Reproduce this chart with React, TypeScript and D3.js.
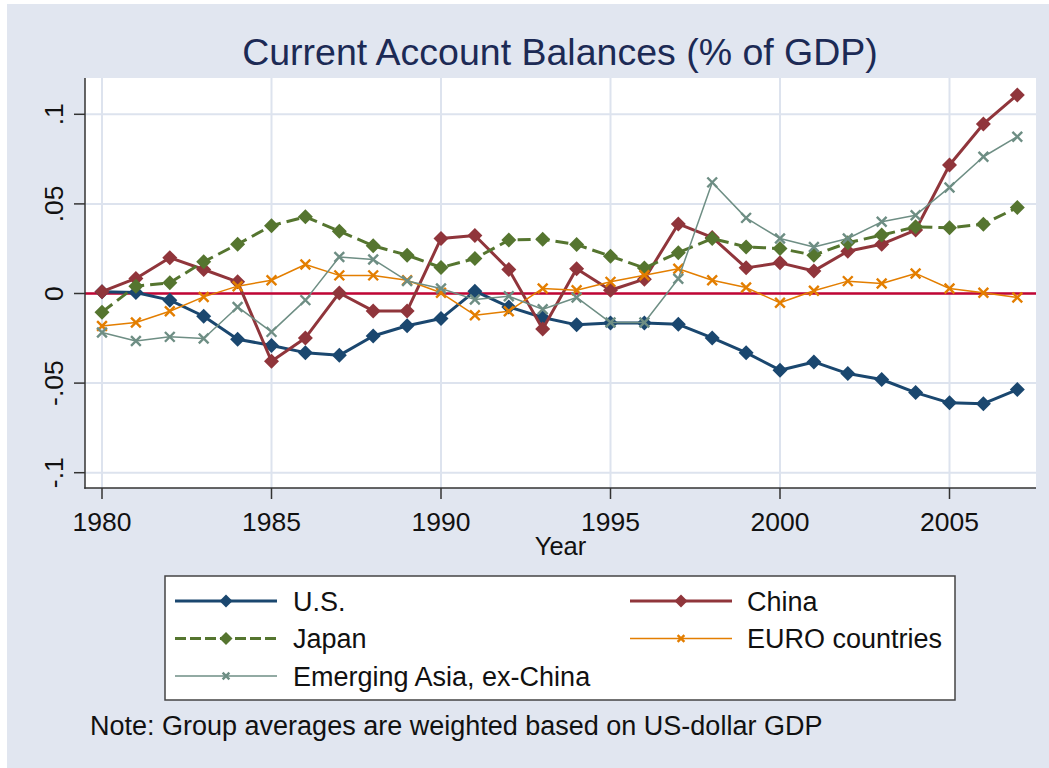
import * as d3 from "d3";

// Current account balances, share of GDP
const years = [
  1980, 1981, 1982, 1983, 1984, 1985, 1986, 1987, 1988, 1989,
  1990, 1991, 1992, 1993, 1994, 1995, 1996, 1997, 1998, 1999,
  2000, 2001, 2002, 2003, 2004, 2005, 2006, 2007,
];
const usValues = [
  0.001, 0.0006, -0.0037, -0.0127, -0.0255, -0.029, -0.033, -0.0345, -0.0237, -0.018,
  -0.014, 0.0013, -0.0075, -0.0134, -0.0175, -0.0164, -0.0164, -0.0172, -0.0248, -0.033,
  -0.0428, -0.0382, -0.0447, -0.048, -0.0553, -0.061, -0.0615, -0.0536,
];
const chinaValues = [
  0.001, 0.0084, 0.02, 0.0134, 0.0065, -0.0378, -0.0248, 0.0003, -0.0097, -0.0097,
  0.0307, 0.0324, 0.0134, -0.0198, 0.0138, 0.0018, 0.008, 0.0388, 0.0313, 0.0143,
  0.0171, 0.0126, 0.0236, 0.0275, 0.0354, 0.0717, 0.0946, 0.1108,
];
const japanValues = [
  -0.0104, 0.0041, 0.006, 0.0177, 0.0275, 0.0378, 0.0428, 0.0348, 0.0266, 0.0214,
  0.0145, 0.0195, 0.0298, 0.0303, 0.0273, 0.0208, 0.0142, 0.0228, 0.0307, 0.026,
  0.0251, 0.0214, 0.0283, 0.0326, 0.0372, 0.0367, 0.0387, 0.048,
];
const euroValues = [
  -0.0181, -0.0162, -0.0099, -0.0019, 0.0041, 0.0074, 0.0162, 0.0101, 0.0101, 0.0074,
  0.0004, -0.0121, -0.0099, 0.0028, 0.0018, 0.0065, 0.0102, 0.0138, 0.0074, 0.0033,
  -0.0052, 0.0015, 0.0069, 0.0056, 0.0112, 0.0028, 0.0004, -0.0022,
];
const asiaValues = [
  -0.0218, -0.0265, -0.0242, -0.0251, -0.0075, -0.0214, -0.0037, 0.0204, 0.019, 0.007,
  0.0028, -0.0034, -0.0015, -0.0088, -0.0022, -0.0162, -0.0162, 0.0082, 0.062, 0.0422,
  0.0307, 0.026, 0.0307, 0.04, 0.0437, 0.0592, 0.0763, 0.0875,
];

const xTicks = [1980, 1985, 1990, 1995, 2000, 2005];
const yTicks = [-0.1, -0.05, 0, 0.05, 0.1];
const yTickLabels = ["-.1", "-.05", "0", ".05", ".1"];

const TITLE = "Current Account Balances (% of GDP)";
const X_TITLE = "Year";
const NOTE = "Note: Group averages are weighted based on US-dollar GDP";

type Series = {
  name: string;
  values: number[];
  color: string;
  width: number;
  dash?: string;
  marker: "diamond" | "x";
};

const series: Series[] = [
  { name: "U.S.", values: usValues, color: "#1a476f", width: 3, marker: "diamond" },
  { name: "China", values: chinaValues, color: "#90353b", width: 3, marker: "diamond" },
  { name: "Japan", values: japanValues, color: "#55752f", width: 3, dash: "13 6", marker: "diamond" },
  { name: "EURO countries", values: euroValues, color: "#e37e00", width: 1.5, marker: "x" },
  { name: "Emerging Asia, ex-China", values: asiaValues, color: "#6e8e84", width: 1.5, marker: "x" },
];

// legend grid: [row, col]
const legendSlots = [[0, 0], [0, 1], [1, 0], [1, 1], [2, 0]];

const W = 1049;
const H = 768;
const plot = { left: 85, right: 1036, top: 78, bottom: 488 };
const BG = "#e1e6f0";
const GRID = "#dde3ee";
const FONT = "'Liberation Sans', Arial, sans-serif";

function Marker({ kind, x, y, color, r }: { kind: string; x: number; y: number; color: string; r: number }) {
  if (kind === "diamond") {
    return (
      <path
        d={`M${x},${y - r}L${x + r},${y}L${x},${y + r}L${x - r},${y}Z`}
        fill={color}
      />
    );
  }
  const s = r * 0.75;
  return (
    <path
      d={`M${x - s},${y - s}L${x + s},${y + s}M${x - s},${y + s}L${x + s},${y - s}`}
      stroke={color}
      strokeWidth={2.4}
      fill="none"
    />
  );
}

export default function App() {
  const x = d3.scaleLinear().domain([1980, 2007]).range([102, 1017.3]);
  const y = d3.scaleLinear().domain([-0.1, 0.1]).range([472.7, 114.3]);

  const line = d3
    .line<number>()
    .x((_, i) => x(years[i]))
    .y((v) => y(v));

  const tick = 11;

  return (
    <svg
      width={W}
      height={H}
      style={{ position: "absolute", left: 0, top: 0, fontFamily: FONT }}
    >
      <rect x={0} y={0} width={W} height={H} fill="#fff" />
      <rect x={7} y={4} width={W - 7} height={H - 4} fill={BG} />

      <text x={560} y={65} textAnchor="middle" fontSize={37.5} fill="#1c2a55">
        {TITLE}
      </text>

      {/* plot region */}
      <rect
        x={plot.left}
        y={plot.top}
        width={plot.right - plot.left}
        height={plot.bottom - plot.top}
        fill="#fff"
      />

      {/* grid */}
      {xTicks.map((t) => (
        <line key={"gx" + t} x1={x(t)} x2={x(t)} y1={plot.top} y2={plot.bottom} stroke={GRID} strokeWidth={2} />
      ))}
      {yTicks.map((t) => (
        <line key={"gy" + t} x1={plot.left} x2={plot.right} y1={y(t)} y2={y(t)} stroke={GRID} strokeWidth={2} />
      ))}

      {/* zero reference line */}
      <line x1={plot.left} x2={plot.right} y1={y(0)} y2={y(0)} stroke="#c10534" strokeWidth={2.5} />

      {/* series */}
      {series.map((s) => (
        <g key={s.name}>
          <path
            d={line(s.values) ?? ""}
            fill="none"
            stroke={s.color}
            strokeWidth={s.width}
            strokeDasharray={s.dash}
            strokeLinejoin="round"
          />
          {s.values.map((v, i) => (
            <Marker
              key={i}
              kind={s.marker}
              x={x(years[i])}
              y={y(v)}
              color={s.color}
              r={s.marker === "diamond" ? 7.5 : 6.5}
            />
          ))}
        </g>
      ))}

      {/* axes */}
      <line x1={plot.left} x2={plot.left} y1={plot.top} y2={plot.bottom + 0.75} stroke="#333" strokeWidth={1.5} />
      <line x1={plot.left - 0.75} x2={plot.right} y1={plot.bottom} y2={plot.bottom} stroke="#333" strokeWidth={1.5} />

      {xTicks.map((t) => (
        <g key={"xt" + t}>
          <line x1={x(t)} x2={x(t)} y1={plot.bottom} y2={plot.bottom + tick} stroke="#333" strokeWidth={1.5} />
          <text x={x(t)} y={531} textAnchor="middle" fontSize={26.5} fill="#111">
            {t}
          </text>
        </g>
      ))}
      {yTicks.map((t, i) => (
        <g key={"yt" + t}>
          <line x1={plot.left - tick} x2={plot.left} y1={y(t)} y2={y(t)} stroke="#333" strokeWidth={1.5} />
          <text
            transform={`translate(63,${y(t)}) rotate(-90)`}
            textAnchor="middle"
            fontSize={26.5}
            fill="#111"
          >
            {yTickLabels[i]}
          </text>
        </g>
      ))}

      <text x={(plot.left + plot.right) / 2} y={555} textAnchor="middle" fontSize={25.5} fill="#111">
        {X_TITLE}
      </text>

      {/* legend */}
      <rect x={165} y={576} width={790} height={124} fill="#fff" stroke="#444" strokeWidth={1.5} />
      {series.map((s, i) => {
        const [row, col] = legendSlots[i];
        const ly = 601 + row * 37.5;
        const lx0 = col === 0 ? 175 : 630;
        const lx1 = lx0 + 102;
        const mx = (lx0 + lx1) / 2;
        return (
          <g key={"lg" + s.name}>
            <line
              x1={lx0}
              x2={lx1}
              y1={ly}
              y2={ly}
              stroke={s.color}
              strokeWidth={s.width}
              strokeDasharray={s.dash ? "11 4" : undefined}
            />
            <Marker kind={s.marker} x={mx} y={ly} color={s.color} r={s.marker === "diamond" ? 6.5 : 4.5} />
            <text x={col === 0 ? 293 : 747} y={ly + 9.5} fontSize={27} fill="#111">
              {s.name}
            </text>
          </g>
        );
      })}

      <text x={90} y={735} fontSize={27} fill="#111">
        {NOTE}
      </text>
    </svg>
  );
}
